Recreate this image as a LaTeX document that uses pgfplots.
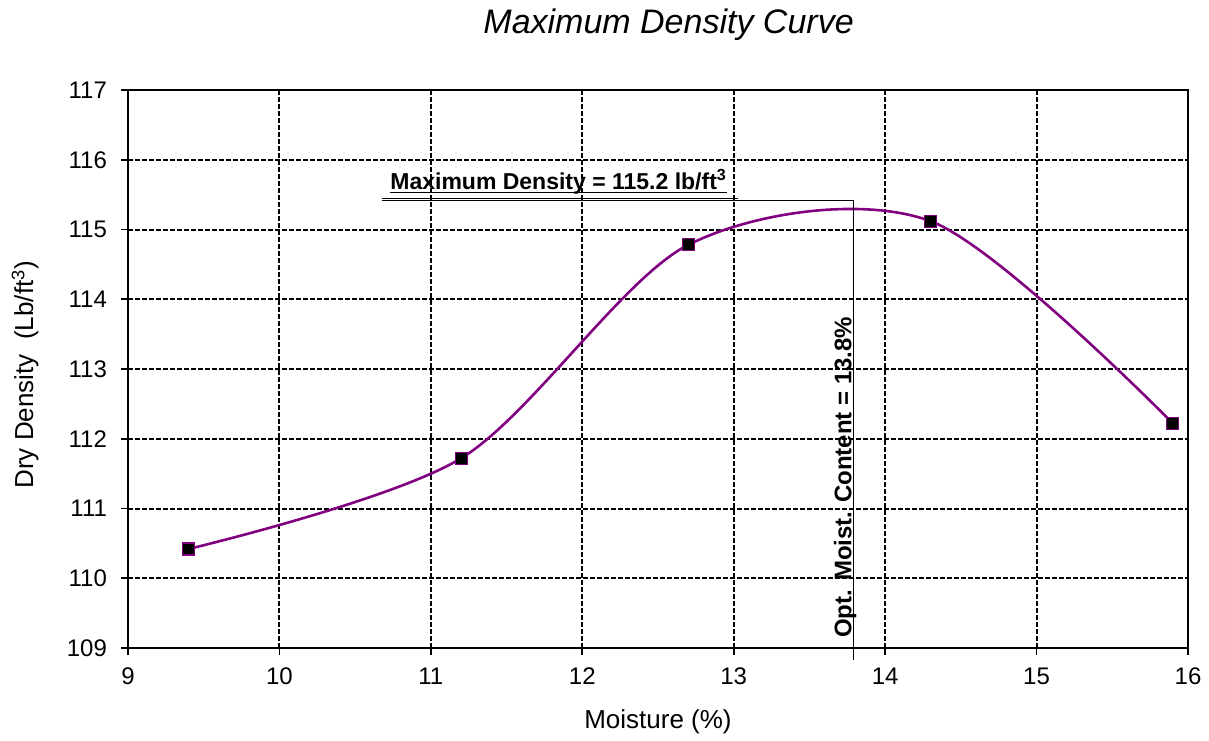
\documentclass[border=0pt]{standalone}
\usepackage{fontspec}
\setmainfont{Liberation Sans}
\usepackage{pgfplots}
\pgfplotsset{compat=1.18}
\definecolor{curvepurple}{RGB}{128,0,128}

\begin{document}
\begin{tikzpicture}
\begin{axis}[
  scale only axis, width=530pt, height=279pt,
  xmin=9, xmax=16, ymin=109, ymax=117,
  xtick={9,...,16}, ytick={109,...,117},
  grid=major,
  major grid style={black, line width=1pt, dash pattern=on 2.7pt off 0.8pt},
  axis line style={line width=1.2pt},
  tick pos=left, tick align=outside, major tick length=3.5pt,
  tick style={black, line width=0.8pt},
  /pgf/number format/assume math mode=true,
  ticklabel style={font=\fontsize{12}{14}\selectfont},
  xticklabel style={yshift=-3pt},
  yticklabel style={xshift=-3.5pt},
  title={\itshape Maximum Density Curve},
  title style={font=\fontsize{17}{20}\selectfont, at={(axis description cs:0.51,1)}, anchor=center, yshift=26.5pt},
  xlabel={Moisture (\%)},
  xlabel style={font=\fontsize{13}{15}\selectfont, at={(axis description cs:0.5,0)}, anchor=center, yshift=-37pt},
  ylabel={Dry Density\ \ (Lb/ft\textsuperscript{3})},
  ylabel style={font=\fontsize{13}{15}\selectfont, at={(axis description cs:0,0.49)}, anchor=center, yshift=51.5pt},
  clip=false,
]
\addplot[curvepurple, line width=1.3pt, smooth, tension=0.5,
  mark=square*, mark size=3pt,
  mark options={fill=black, draw=curvepurple, line width=0.6pt}]
  coordinates {
  (9.4, 110.42)
  (11.2, 111.72)
  (12.7, 114.78)
  (14.3, 115.12)
  (15.9, 112.22)
};
% annotation: optimum point lines
\draw[black, line width=0.5pt] (axis cs:10.68,115.41) -- (axis cs:13.79,115.41) -- (axis cs:13.79,108.83);
\draw[black, line width=0.5pt] (axis cs:10.68,115.445) -- (axis cs:13.03,115.445);
\node[anchor=base west, inner sep=0pt, font=\fontsize{11.5}{13}\selectfont\bfseries] (mx)
  at (axis cs:10.73,115.575) {Maximum Density = 115.2 lb/ft\textsuperscript{3}};
\draw[black, line width=0.6pt] ([yshift=-1.6pt]mx.base west) -- ([yshift=-1.6pt]mx.base east);
\node[anchor=base west, rotate=90, inner sep=0pt, font=\fontsize{12}{14}\selectfont\bfseries]
  at ([xshift=-1pt]axis cs:13.79,109.14) {Opt. Moist. Content = 13.8\%};
\end{axis}
\pgfresetboundingbox
\path (-64pt,-46pt) rectangle (540.5pt,324pt);
\end{tikzpicture}
\end{document}
